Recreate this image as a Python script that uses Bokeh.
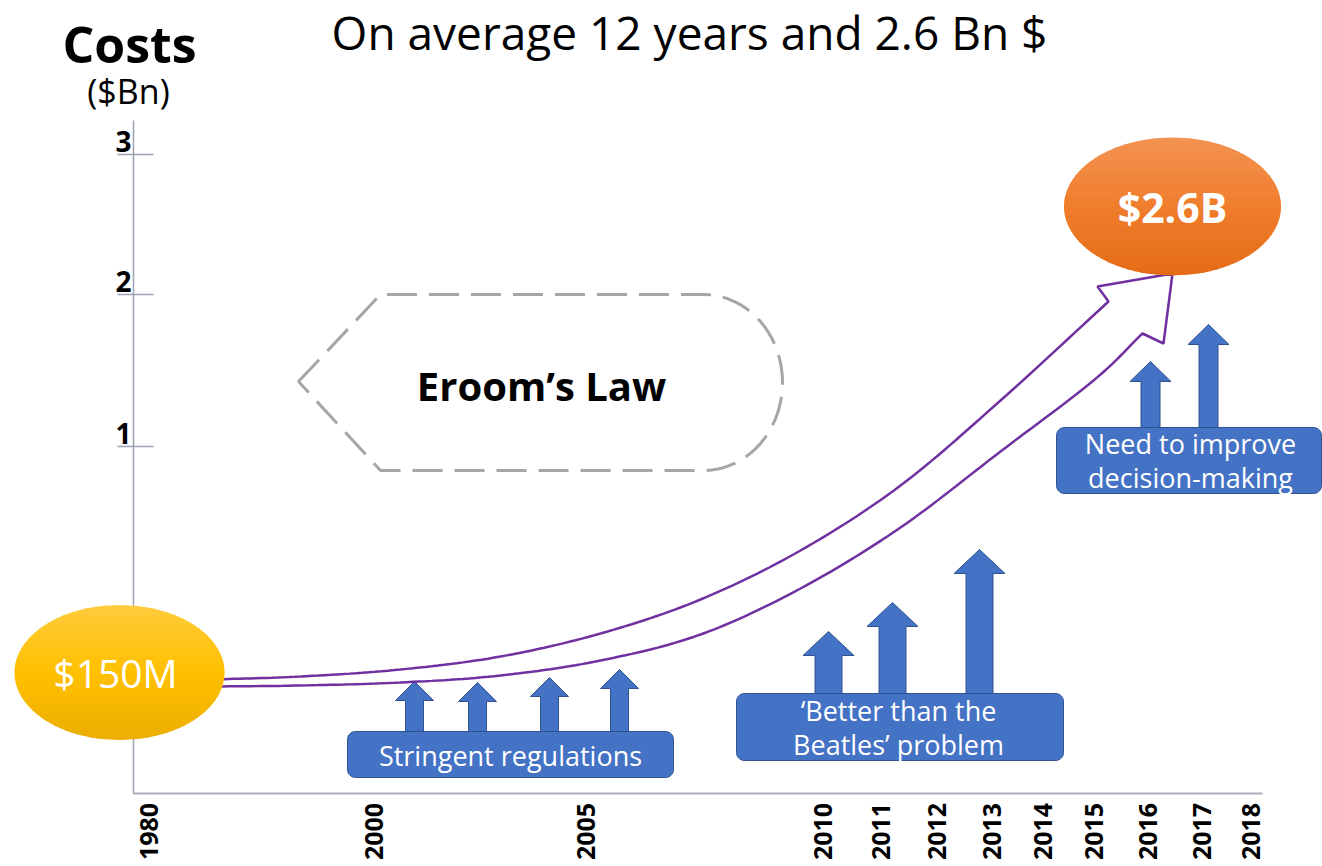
import numpy as np
from bokeh.plotting import figure
from bokeh.models import Range1d
from bokeh.core.properties import value
from bokeh.embed import file_html
from bokeh.resources import INLINE

# ---------------- data ----------------
title_text = "On average 12 years and 2.6 Bn $"
y_title = "Costs"
y_unit = "($Bn)"
cost_tick_labels = ["1", "2", "3"]
years = ["1980", "2000", "2005", "2010", "2011", "2012", "2013",
         "2014", "2015", "2016", "2017", "2018"]
start_label = "$150M"
end_label = "$2.6B"
law_label = "Eroom\u2019s Law"
driver_labels = [["Stringent regulations"],
                 ["\u2018Better than the", "Beatles\u2019 problem"],
                 ["Need to improve", "decision-making"]]
driver_arrow_len = [[50, 49, 54, 62], [62, 91, 144], [66, 103]]

# trend band (upper / lower edge of the rising block arrow), canvas units
trend_upper_x = [212, 300, 400, 500, 600, 700, 800, 900, 1000, 1108]
trend_upper_y = [679, 676, 669, 656, 633, 599, 550, 485, 400, 301]
trend_lower_x = [212, 300, 400, 500, 600, 700, 800, 900, 1000, 1093, 1142]
trend_lower_y = [686, 685, 682, 675, 660, 634, 588, 527, 451, 380, 333]

# ---------------- layout ----------------
W, H = 1322, 866
FONT = value("Open Sans")
axis_x = 133
axis_y = 793
cost_tick_y = [446, 294, 154]
year_x = [148, 373, 585, 822, 880, 936, 991, 1042, 1093, 1147, 1201, 1250]

BLUE = "#4472C4"
BLUE_EDGE = "#2F528F"
PURPLE = "#7030A0"

p = figure(width=W, height=H, x_range=Range1d(0, W), y_range=Range1d(H, 0),
           output_backend="svg", toolbar_location=None,
           x_axis_location=None, y_axis_location=None,
           min_border=0, outline_line_color=None)
p.grid.visible = False
p.background_fill_color = "white"
p.border_fill_color = "white"


def txt(x, y, t, size, color="black", bold=False, align="center", angle=0.0):
    p.text(x=[x], y=[y], text=[t], text_font=FONT, text_font_size=size,
           text_font_style="bold" if bold else "normal", text_color=color,
           text_align=align, text_baseline="middle", angle=angle)


def mix(c1, c2, t):
    a = [int(c1[i:i + 2], 16) for i in (1, 3, 5)]
    b = [int(c2[i:i + 2], 16) for i in (1, 3, 5)]
    return "#%02x%02x%02x" % tuple(int(round(a[k] + (b[k] - a[k]) * t)) for k in range(3))


def grad_ellipse(cx, cy, w, h, top, mid, bot, n=40):
    xs_all, ys_all, cols = [], [], []
    for i in range(n):
        y0 = cy - h / 2 + i * h / n
        y1 = min(cy + h / 2, y0 + h / n + 0.8)
        yy = np.linspace(y0, y1, 6)
        half = (w / 2) * np.sqrt(np.clip(1 - ((yy - cy) / (h / 2)) ** 2, 0, 1))
        xs_all.append(list(cx - half) + list((cx + half)[::-1]))
        ys_all.append(list(yy) + list(yy[::-1]))
        t = (i + 0.5) / n
        cols.append(mix(top, mid, t * 2) if t < 0.5 else mix(mid, bot, (t - 0.5) * 2))
    p.patches(xs_all, ys_all, fill_color=cols, line_color=None)


def catmull(xs, ys, n=16):
    P = np.array(list(zip(xs, ys)), dtype=float)
    P = np.vstack([P[0] * 2 - P[1], P, P[-1] * 2 - P[-2]])
    out = []
    for i in range(1, len(P) - 2):
        p0, p1, p2, p3 = P[i - 1], P[i], P[i + 1], P[i + 2]
        for t in np.linspace(0, 1, n, endpoint=False):
            t2, t3 = t * t, t * t * t
            out.append(0.5 * ((2 * p1) + (-p0 + p2) * t + (2 * p0 - 5 * p1 + 4 * p2 - p3) * t2
                              + (-p0 + 3 * p1 - 3 * p2 + p3) * t3))
    out.append(P[-2])
    out = np.array(out)
    return list(out[:, 0]), list(out[:, 1])


def rounded_box(x0, y0, x1, y1, r=8):
    xs, ys = [], []
    corners = [(x1 - r, y0 + r, -np.pi / 2, 0), (x1 - r, y1 - r, 0, np.pi / 2),
               (x0 + r, y1 - r, np.pi / 2, np.pi), (x0 + r, y0 + r, np.pi, 1.5 * np.pi)]
    for cx, cy, a0, a1 in corners:
        for a in np.linspace(a0, a1, 8):
            xs.append(cx + r * np.cos(a))
            ys.append(cy + r * np.sin(a))
    p.patch(xs, ys, fill_color=BLUE, line_color=BLUE_EDGE, line_width=1)


def up_arrow(cx, base, length, shaft, head_w, head_h):
    tip = base - length
    xs = [cx - shaft / 2, cx - shaft / 2, cx - head_w / 2, cx, cx + head_w / 2,
          cx + shaft / 2, cx + shaft / 2]
    ys = [base + 3, tip + head_h, tip + head_h, tip, tip + head_h, tip + head_h, base + 3]
    p.patch(xs, ys, fill_color=BLUE, line_color=BLUE_EDGE, line_width=1)


# ---- titles ----
txt(689, 31, title_text, "46px")
txt(129, 43, y_title, "50px", bold=True)
txt(128, 90, y_unit, "34px")

# ---- axes ----
p.segment(x0=[axis_x], y0=[120], x1=[axis_x], y1=[axis_y], line_color="#9AA4B4", line_width=1.5)
p.segment(x0=[axis_x], y0=[axis_y], x1=[1262], y1=[axis_y], line_color="#A9AEB8", line_width=2)
p.segment(x0=[117] * 3, y0=cost_tick_y, x1=[153] * 3, y1=cost_tick_y,
          line_color="#9AA4B4", line_width=1.5)
for lab, ty in zip(cost_tick_labels, cost_tick_y):
    txt(123, ty - 13, lab, "28px", bold=True)
for lab, xx in zip(years, year_x):
    txt(xx, 831, lab, "25px", bold=True, angle=np.pi / 2)

# ---- Eroom's law shape ----
t = np.linspace(0, np.pi, 40)
ex = [298, 380] + list(703 + 79 * np.sin(t)) + [380, 298]
ey = [381, 294] + list(382 - 88 * np.cos(t)) + [470, 381]
p.patch(ex, ey, fill_color="white", line_color="#A6A6A6", line_width=3, line_dash="30 12")
txt(541, 385, law_label, "40px", bold=True)

# ---- driver arrows and boxes ----
groups = [
    dict(cx=[414, 477, 549, 619], base=731, shaft=18, hw=38, hh=19,
         box=(347, 731, 673, 777), tx=510, ty=[755], fs="27px"),
    dict(cx=[828, 892, 979], base=693, shaft=27, hw=51, hh=24,
         box=(736, 693, 1063, 760), tx=898, ty=[710, 744], fs="27px"),
    dict(cx=[1150, 1208], base=427, shaft=19, hw=41, hh=20,
         box=(1056, 427, 1321, 493), tx=1190, ty=[443, 477], fs="27px"),
]
for g, lens, labels in zip(groups, driver_arrow_len, driver_labels):
    for cx, L in zip(g["cx"], lens):
        up_arrow(cx, g["base"], L, g["shaft"], g["hw"], g["hh"])
    rounded_box(*g["box"])
    for line, yy in zip(labels, g["ty"]):
        txt(g["tx"], yy, line, g["fs"], color="white")

# ---- rising block arrow ----
ux, uy = catmull(trend_upper_x, trend_upper_y)
lx, ly = catmull(trend_lower_x, trend_lower_y)
head_x = [1097, 1172, 1163]
head_y = [286, 273, 343]
bx = ux + head_x + lx[::-1]
by = uy + head_y + ly[::-1]
p.patch(bx, by, fill_color="white", line_color=PURPLE, line_width=2.5)

# ---- cost ellipses ----
grad_ellipse(119, 672, 210, 135, "#FFCB3C", "#FFC000", "#ECAE00")
txt(115, 672, start_label, "39px", color="white")
grad_ellipse(1172, 206, 217, 138, "#F39352", "#F07D2C", "#E56C16")
txt(1172, 206, end_label, "41px", color="white", bold=True)

open("out.html", "w").write(file_html(p, INLINE))
